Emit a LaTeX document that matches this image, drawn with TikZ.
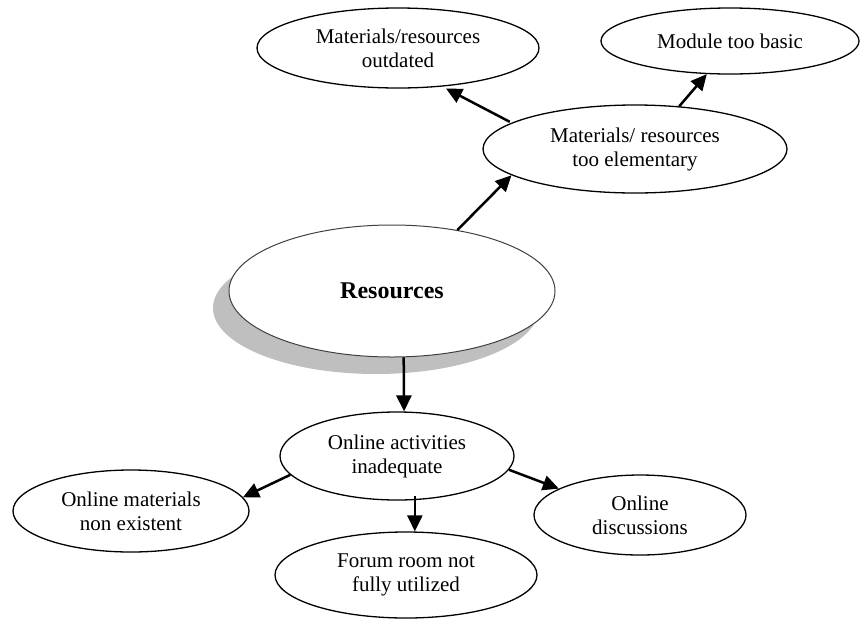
\documentclass[tikz,border=0pt]{standalone}
\usepackage{fontspec}
\setmainfont{Liberation Serif}
\usetikzlibrary{shapes.geometric,arrows.meta,shadows}
\begin{document}
\begin{tikzpicture}[x=1pt,y=-1pt,
  bubble/.style={ellipse,draw,line width=1.3pt,inner sep=0pt,align=center,
                 font=\fontsize{21}{24}\selectfont},
  hub/.style={ellipse,draw=black!75,line width=1pt,fill=white,inner sep=0pt,
              drop shadow={shadow xshift=-16pt,shadow yshift=-17pt,fill=black!25,opacity=1},
              font=\fontsize{24}{28}\selectfont\bfseries},
  link/.style={line width=2.5pt,-{Triangle[length=16pt,width=15pt]}}]
\useasboundingbox (0,0) rectangle (861,619);

% central topic
\node[hub,minimum width=326pt,minimum height=132pt] (R) at (392,291) {Resources};

% upper branch
\node[bubble,minimum width=304pt,minimum height=88pt] (E) at (635,149) {Materials/ resources\\too elementary};
\node[bubble,minimum width=282pt,minimum height=80pt] (O) at (398,48) {Materials/resources\\outdated};
\node[bubble,minimum width=258pt,minimum height=66pt] (M) at (730,41) {Module too basic};

% lower branch
\node[bubble,minimum width=234pt,minimum height=88pt] (A) at (397,456) {Online activities\\inadequate};
\node[bubble,minimum width=236pt,minimum height=82pt] (N) at (131,511) {Online materials\\non existent};
\node[bubble,minimum width=212pt,minimum height=80pt] (D) at (640,515) {Online\\discussions};
\node[bubble,minimum width=262pt,minimum height=86pt] (F) at (406,575) {Forum room not\\fully utilized};

% connectors
\draw[link] (R.43) -- (E.192);
\draw[link,shorten <=2pt,shorten >=4pt] (E.168) -- (O.319);
\draw[link] (E.44) -- (M.235);
\draw[link] (R.280) -- (A.81);
\draw[link] (A.190) -- (N.7);
\draw[link] (A.353) -- (D.162);
\draw[link,shorten <=-4pt] (A.292) -- (A.292 |- F.north);
\end{tikzpicture}
\end{document}
